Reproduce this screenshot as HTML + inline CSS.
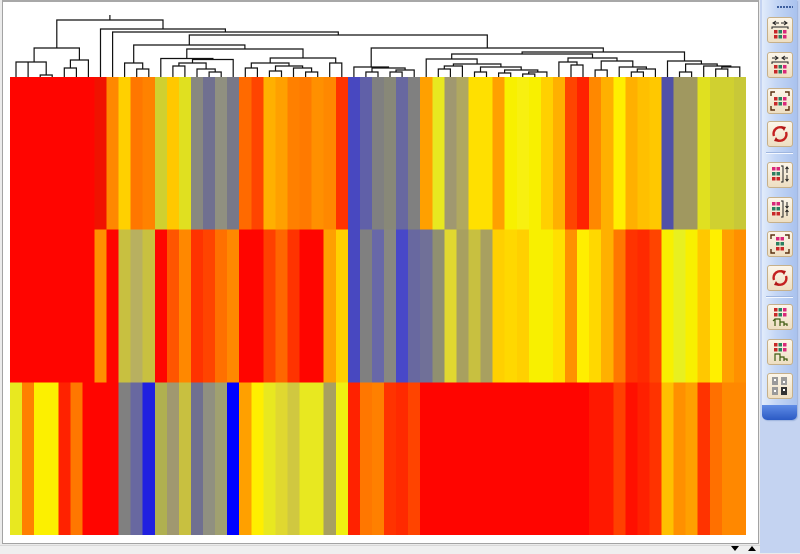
<!DOCTYPE html>
<html><head><meta charset="utf-8"><style>
html,body{margin:0;padding:0}
body{width:800px;height:553px;overflow:hidden;position:relative;background:#ebebeb;font-family:"Liberation Sans",sans-serif}
.abs{position:absolute}
.btn{position:absolute;left:767px;width:26px;height:26px;box-sizing:border-box;border:1px solid #c6b08a;border-radius:3px;background:linear-gradient(#fcf6ea,#eedfc2)}
.btn svg{position:absolute;left:-1px;top:-1px}
.sep{position:absolute;left:766px;width:27px;height:1px;background:#f4f8ff;border-top:1px solid #9fb6df}
</style></head><body>
<div class="abs" style="left:760px;top:0;width:40px;height:553px;background:#c4d3f1"></div>
<div class="abs" style="left:2px;top:0;width:757px;height:544px;background:#fff;border:1px solid #a3a3a3;border-top:2px solid #a8a8a8;box-sizing:border-box"></div>
<div class="abs" style="left:0;top:545px;width:760px;height:8px;background:#efefef;border-top:1px solid #d8d8d8"></div>
<svg class="abs" style="left:0;top:0" width="760" height="553">
<path fill="none" stroke="#111" stroke-width="1.2" d="M40.2 77V75H52.2V77M16 77V62H28.1V77M46.2 75V62H22.05M64.3 77V68H76.4V77M70.4 68V60H88.4V77M34.1 62V48H79.4V60M136.7 77V69H148.8V77M124.6 77V63H142.7V69M172.9 77V66H184.9V77M209.1 77V72H221.2V77M197 77V69H215.2V72M178.9 66V63H206.1V69M192.5 63V59.5H233.2V77M160.8 77V58.5H212.9V59.5M245.3 77V68H257.4V77M269.4 77V71H281.5V77M305.6 77V72H317.7V77M293.5 77V68H311.6V72M275.5 71V66H302.6V68M251.3 68V63H289V66M329.7 77V63H341.8V77M270.2 63V58H335.7V63M186.8 58.5V49H303V58M133.7 63V45H244.9V49M365.9 77V72H378V77M390 77V72H402.1V77M396 72V70H414.2V77M372 72V68H405.1V70M353.9 77V67H388.5V68M438.3 77V69H450.4V77M444.3 69V66H462.4V77M474.5 77V72H486.5V77M498.6 77V73H510.7V77M522.7 77V74H534.8V77M528.7 74V72H546.9V77M504.6 73V70H537.8V72M480.5 72V67H521.2V70M453.4 66V64H500.9V67M426.2 77V59H477.1V64M571 77V65H583V77M558.9 77V62H577V65M595.1 77V70H607.2V77M631.3 77V72H643.4V77M637.3 72V69H655.4V77M619.2 77V67H646.4V69M601.2 70V61H632.8V67M568 62V58H617V61M451.7 59V54H592.5V58M679.5 77V72H691.6V77M715.7 77V69H727.8V77M721.8 69V67H739.8V77M703.7 77V66H730.8V67M685.6 72V64H717.2V66M667.5 77V61H701.4V64M522.1 54V52H684.5V61M371.2 67V48H603.3V52M189.3 45V35H487.3V48M112.6 77V32H338.3V35M100.5 77V29H225.4V32M56.8 48V20H163V29M109.9 20V15"/>
<svg x="10" y="77" width="736" height="458" viewBox="0 0 61 3" preserveAspectRatio="none" shape-rendering="crispEdges">
<g>
<rect x="0" y="0" width="7.05" height="1.01" fill="#ff0500"/>
<rect x="7" y="0" width="1.05" height="1.01" fill="#f01200"/>
<rect x="8" y="0" width="1.05" height="1.01" fill="#ff8800"/>
<rect x="9" y="0" width="1.05" height="1.01" fill="#ffd000"/>
<rect x="10" y="0" width="1.05" height="1.01" fill="#ff7700"/>
<rect x="11" y="0" width="1.05" height="1.01" fill="#ff8200"/>
<rect x="12" y="0" width="1.05" height="1.01" fill="#d0d030"/>
<rect x="13" y="0" width="1.05" height="1.01" fill="#ffc800"/>
<rect x="14" y="0" width="1.05" height="1.01" fill="#e0e020"/>
<rect x="15" y="0" width="1.05" height="1.01" fill="#888880"/>
<rect x="16" y="0" width="1.05" height="1.01" fill="#707090"/>
<rect x="17" y="0" width="1.05" height="1.01" fill="#909080"/>
<rect x="18" y="0" width="1.05" height="1.01" fill="#787888"/>
<rect x="19" y="0" width="1.05" height="1.01" fill="#ff6a00"/>
<rect x="20" y="0" width="1.05" height="1.01" fill="#ff4400"/>
<rect x="21" y="0" width="1.05" height="1.01" fill="#ffb000"/>
<rect x="22" y="0" width="1.05" height="1.01" fill="#ffa000"/>
<rect x="23" y="0" width="1.05" height="1.01" fill="#ff8000"/>
<rect x="24" y="0" width="1.05" height="1.01" fill="#ff7a00"/>
<rect x="25" y="0" width="1.05" height="1.01" fill="#ff9000"/>
<rect x="26" y="0" width="1.05" height="1.01" fill="#ff8800"/>
<rect x="27" y="0" width="1.05" height="1.01" fill="#ff3300"/>
<rect x="28" y="0" width="1.05" height="1.01" fill="#4848c0"/>
<rect x="29" y="0" width="1.05" height="1.01" fill="#6060a8"/>
<rect x="30" y="0" width="1.05" height="1.01" fill="#808080"/>
<rect x="31" y="0" width="1.05" height="1.01" fill="#888878"/>
<rect x="32" y="0" width="1.05" height="1.01" fill="#6868a0"/>
<rect x="33" y="0" width="1.05" height="1.01" fill="#808080"/>
<rect x="34" y="0" width="1.05" height="1.01" fill="#ffa000"/>
<rect x="35" y="0" width="1.05" height="1.01" fill="#e8e820"/>
<rect x="36" y="0" width="1.05" height="1.01" fill="#a09870"/>
<rect x="37" y="0" width="1.05" height="1.01" fill="#b0a860"/>
<rect x="38" y="0" width="2.05" height="1.01" fill="#ffe000"/>
<rect x="40" y="0" width="1.05" height="1.01" fill="#ffa000"/>
<rect x="41" y="0" width="1.05" height="1.01" fill="#f8f000"/>
<rect x="42" y="0" width="1.05" height="1.01" fill="#f8f010"/>
<rect x="43" y="0" width="1.05" height="1.01" fill="#f8f000"/>
<rect x="44" y="0" width="1.05" height="1.01" fill="#ffd000"/>
<rect x="45" y="0" width="1.05" height="1.01" fill="#ffb000"/>
<rect x="46" y="0" width="1.05" height="1.01" fill="#ff4400"/>
<rect x="47" y="0" width="1.05" height="1.01" fill="#ff2200"/>
<rect x="48" y="0" width="1.05" height="1.01" fill="#ff8800"/>
<rect x="49" y="0" width="1.05" height="1.01" fill="#ffb000"/>
<rect x="50" y="0" width="1.05" height="1.01" fill="#ffee00"/>
<rect x="51" y="0" width="1.05" height="1.01" fill="#ffb000"/>
<rect x="52" y="0" width="1.05" height="1.01" fill="#ffc000"/>
<rect x="53" y="0" width="1.05" height="1.01" fill="#ffc800"/>
<rect x="54" y="0" width="1.05" height="1.01" fill="#5050a8"/>
<rect x="55" y="0" width="2.05" height="1.01" fill="#a09860"/>
<rect x="57" y="0" width="1.05" height="1.01" fill="#e0e020"/>
<rect x="58" y="0" width="2.05" height="1.01" fill="#d0d030"/>
<rect x="60" y="0" width="1" height="1.01" fill="#c8c838"/>
</g>
<g>
<rect x="0" y="1" width="7.05" height="1.01" fill="#ff0500"/>
<rect x="7" y="1" width="1.05" height="1.01" fill="#ff9000"/>
<rect x="8" y="1" width="1.05" height="1.01" fill="#ff0500"/>
<rect x="9" y="1" width="1.05" height="1.01" fill="#c8c040"/>
<rect x="10" y="1" width="1.05" height="1.01" fill="#b8b060"/>
<rect x="11" y="1" width="1.05" height="1.01" fill="#c8c040"/>
<rect x="12" y="1" width="1.05" height="1.01" fill="#ff0500"/>
<rect x="13" y="1" width="1.05" height="1.01" fill="#ff5500"/>
<rect x="14" y="1" width="1.05" height="1.01" fill="#ff8800"/>
<rect x="15" y="1" width="1.05" height="1.01" fill="#ff3300"/>
<rect x="16" y="1" width="1.05" height="1.01" fill="#ff4400"/>
<rect x="17" y="1" width="1.05" height="1.01" fill="#ff7000"/>
<rect x="18" y="1" width="1.05" height="1.01" fill="#ff8800"/>
<rect x="19" y="1" width="2.05" height="1.01" fill="#ff0500"/>
<rect x="21" y="1" width="1.05" height="1.01" fill="#ff4000"/>
<rect x="22" y="1" width="1.05" height="1.01" fill="#ff6600"/>
<rect x="23" y="1" width="1.05" height="1.01" fill="#ff3300"/>
<rect x="24" y="1" width="2.05" height="1.01" fill="#ff0500"/>
<rect x="26" y="1" width="1.05" height="1.01" fill="#ffa000"/>
<rect x="27" y="1" width="1.05" height="1.01" fill="#ffd000"/>
<rect x="28" y="1" width="1.05" height="1.01" fill="#4848c0"/>
<rect x="29" y="1" width="1.05" height="1.01" fill="#808080"/>
<rect x="30" y="1" width="1.05" height="1.01" fill="#6868a8"/>
<rect x="31" y="1" width="1.05" height="1.01" fill="#888880"/>
<rect x="32" y="1" width="1.05" height="1.01" fill="#4848c8"/>
<rect x="33" y="1" width="1.05" height="1.01" fill="#6868a0"/>
<rect x="34" y="1" width="1.05" height="1.01" fill="#707098"/>
<rect x="35" y="1" width="1.05" height="1.01" fill="#909070"/>
<rect x="36" y="1" width="1.05" height="1.01" fill="#e0d830"/>
<rect x="37" y="1" width="1.05" height="1.01" fill="#a8a060"/>
<rect x="38" y="1" width="1.05" height="1.01" fill="#c8c040"/>
<rect x="39" y="1" width="1.05" height="1.01" fill="#a8a060"/>
<rect x="40" y="1" width="1.05" height="1.01" fill="#ffd000"/>
<rect x="41" y="1" width="1.05" height="1.01" fill="#ffd800"/>
<rect x="42" y="1" width="1.05" height="1.01" fill="#ffd000"/>
<rect x="43" y="1" width="2.05" height="1.01" fill="#f8f000"/>
<rect x="45" y="1" width="1.05" height="1.01" fill="#ffe000"/>
<rect x="46" y="1" width="1.05" height="1.01" fill="#ff9000"/>
<rect x="47" y="1" width="1.05" height="1.01" fill="#ffee00"/>
<rect x="48" y="1" width="1.05" height="1.01" fill="#ffd800"/>
<rect x="49" y="1" width="1.05" height="1.01" fill="#ffb000"/>
<rect x="50" y="1" width="1.05" height="1.01" fill="#ff7700"/>
<rect x="51" y="1" width="1.05" height="1.01" fill="#ff3300"/>
<rect x="52" y="1" width="1.05" height="1.01" fill="#ff2a00"/>
<rect x="53" y="1" width="1.05" height="1.01" fill="#ff4400"/>
<rect x="54" y="1" width="1.05" height="1.01" fill="#f8f000"/>
<rect x="55" y="1" width="1.05" height="1.01" fill="#e8f020"/>
<rect x="56" y="1" width="1.05" height="1.01" fill="#f8f000"/>
<rect x="57" y="1" width="1.05" height="1.01" fill="#ffc800"/>
<rect x="58" y="1" width="1.05" height="1.01" fill="#fff000"/>
<rect x="59" y="1" width="1.05" height="1.01" fill="#ffa000"/>
<rect x="60" y="1" width="1" height="1.01" fill="#ff9000"/>
</g>
<g>
<rect x="0" y="2" width="1.05" height="1" fill="#e8e820"/>
<rect x="1" y="2" width="1.05" height="1" fill="#ff8000"/>
<rect x="2" y="2" width="2.05" height="1" fill="#fcf000"/>
<rect x="4" y="2" width="1.05" height="1" fill="#ff2200"/>
<rect x="5" y="2" width="1.05" height="1" fill="#ff7700"/>
<rect x="6" y="2" width="3.05" height="1" fill="#ff0500"/>
<rect x="9" y="2" width="1.05" height="1" fill="#808080"/>
<rect x="10" y="2" width="1.05" height="1" fill="#6868a0"/>
<rect x="11" y="2" width="1.05" height="1" fill="#2020e0"/>
<rect x="12" y="2" width="1.05" height="1" fill="#b0b050"/>
<rect x="13" y="2" width="1.05" height="1" fill="#a09870"/>
<rect x="14" y="2" width="1.05" height="1" fill="#c8c040"/>
<rect x="15" y="2" width="1.05" height="1" fill="#707090"/>
<rect x="16" y="2" width="1.05" height="1" fill="#909080"/>
<rect x="17" y="2" width="1.05" height="1" fill="#a0a070"/>
<rect x="18" y="2" width="1.05" height="1" fill="#0000ff"/>
<rect x="19" y="2" width="1.05" height="1" fill="#ffa000"/>
<rect x="20" y="2" width="1.05" height="1" fill="#ffee00"/>
<rect x="21" y="2" width="1.05" height="1" fill="#e8e820"/>
<rect x="22" y="2" width="1.05" height="1" fill="#e0d830"/>
<rect x="23" y="2" width="1.05" height="1" fill="#d0c840"/>
<rect x="24" y="2" width="2.05" height="1" fill="#e8e820"/>
<rect x="26" y="2" width="1.05" height="1" fill="#a8a060"/>
<rect x="27" y="2" width="1.05" height="1" fill="#f0f010"/>
<rect x="28" y="2" width="1.05" height="1" fill="#ff2200"/>
<rect x="29" y="2" width="1.05" height="1" fill="#ff7700"/>
<rect x="30" y="2" width="1.05" height="1" fill="#ff8000"/>
<rect x="31" y="2" width="1.05" height="1" fill="#ff3300"/>
<rect x="32" y="2" width="1.05" height="1" fill="#ff2a00"/>
<rect x="33" y="2" width="1.05" height="1" fill="#ff4400"/>
<rect x="34" y="2" width="14.05" height="1" fill="#ff0500"/>
<rect x="48" y="2" width="2.05" height="1" fill="#ff1800"/>
<rect x="50" y="2" width="1.05" height="1" fill="#ff4000"/>
<rect x="51" y="2" width="1.05" height="1" fill="#ff1000"/>
<rect x="52" y="2" width="1.05" height="1" fill="#ff2000"/>
<rect x="53" y="2" width="1.05" height="1" fill="#ff3300"/>
<rect x="54" y="2" width="1.05" height="1" fill="#ffc000"/>
<rect x="55" y="2" width="1.05" height="1" fill="#ff9000"/>
<rect x="56" y="2" width="1.05" height="1" fill="#ffa000"/>
<rect x="57" y="2" width="1.05" height="1" fill="#ff3300"/>
<rect x="58" y="2" width="1.05" height="1" fill="#ff7000"/>
<rect x="59" y="2" width="2" height="1" fill="#ff8800"/>
</g>
</svg>
<polygon points="731,546 739,546 735,551" fill="#000"/>
<polygon points="748,551 756,551 752,546" fill="#000"/>
</svg>

<!-- toolbar -->
<div class="abs" style="left:762px;top:0;width:35px;height:420px;border-radius:0 0 5px 5px;background:linear-gradient(to right,#e2ecfb,#c4d6f5 40%,#a9c2ee);box-shadow:1px 1px 1px #9db3dc"></div>
<div class="abs" style="left:762px;top:405px;width:35px;height:15px;border-radius:0 0 5px 5px;background:linear-gradient(#5f8ce6,#2b5ac4)"></div>
<div class="abs" style="left:777px;top:6px;width:16px;height:2px;background:repeating-linear-gradient(to right,#3d5f9e 0 2px,transparent 2px 3px)"></div>

<div class="btn" style="top:17px"><svg width="26" height="26"><path d="M6 6H12M9 4L6 6L9 8M20 6H14M17 4L20 6L17 8M5 12V10H21V12" fill="none" stroke="#222" stroke-width="1"/><g fill="#c82828"><rect x="7" y="13" width="3.5" height="3.5"/><rect x="7" y="18" width="3.5" height="3.5"/></g><g fill="#2a8060"><rect x="11.5" y="13" width="3.5" height="3.5"/><rect x="11.5" y="18" width="3.5" height="3.5"/></g><g fill="#d8287a"><rect x="16" y="13" width="3.5" height="3.5"/><rect x="16" y="18" width="3.5" height="3.5"/></g></svg></div>
<div class="btn" style="top:52px"><svg width="26" height="26"><path d="M5 6H11M8 4L11 6L8 8M21 6H15M18 4L15 6L18 8M5 12V10H21V12" fill="none" stroke="#222" stroke-width="1"/><g fill="#c82828"><rect x="7" y="13" width="3.5" height="3.5"/><rect x="7" y="18" width="3.5" height="3.5"/></g><g fill="#2a8060"><rect x="11.5" y="13" width="3.5" height="3.5"/><rect x="11.5" y="18" width="3.5" height="3.5"/></g><g fill="#d8287a"><rect x="16" y="13" width="3.5" height="3.5"/><rect x="16" y="18" width="3.5" height="3.5"/></g></svg></div>
<div class="btn" style="top:88px"><svg width="26" height="26"><path d="M4 8V4H8M18 4H22V8M4 18V22H8M18 22H22V18" fill="none" stroke="#5a3010" stroke-width="1.4"/><g fill="#c82828"><rect x="7" y="9" width="3.5" height="3.5"/><rect x="7" y="14" width="3.5" height="3.5"/></g><g fill="#2a8060"><rect x="11.5" y="9" width="3.5" height="3.5"/><rect x="11.5" y="14" width="3.5" height="3.5"/></g><g fill="#d8287a"><rect x="16" y="9" width="3.5" height="3.5"/><rect x="16" y="14" width="3.5" height="3.5"/></g></svg></div>
<div class="btn" style="top:121px"><svg width="26" height="26"><path d="M7 15A6.5 6.5 0 0 1 17 7.5M19 11A6.5 6.5 0 0 1 9 18.5" fill="none" stroke="#c42020" stroke-width="2.4"/><path d="M14 5L19 6L17 10ZM12 21L7 20L9 16Z" fill="#b01818"/></svg></div>
<div class="sep" style="top:152px"></div>
<div class="btn" style="top:162px"><svg width="26" height="26"><g fill="#d8287a"><rect x="5" y="5" width="3.5" height="3.5"/><rect x="9.5" y="5" width="3.5" height="3.5"/></g><g fill="#2a8060"><rect x="5" y="10" width="3.5" height="3.5"/><rect x="9.5" y="10" width="3.5" height="3.5"/></g><g fill="#c82828"><rect x="5" y="15" width="3.5" height="3.5"/><rect x="9.5" y="15" width="3.5" height="3.5"/></g><path d="M14 4H16V20H14M20 5V11M18.5 7L20 5L21.5 7M20 13V19M18.5 17L20 19L21.5 17" fill="none" stroke="#222" stroke-width="1"/></svg></div>
<div class="btn" style="top:197px"><svg width="26" height="26"><g fill="#d8287a"><rect x="5" y="5" width="3.5" height="3.5"/><rect x="9.5" y="5" width="3.5" height="3.5"/></g><g fill="#2a8060"><rect x="5" y="10" width="3.5" height="3.5"/><rect x="9.5" y="10" width="3.5" height="3.5"/></g><g fill="#c82828"><rect x="5" y="15" width="3.5" height="3.5"/><rect x="9.5" y="15" width="3.5" height="3.5"/></g><path d="M14 4H16V20H14M20 5V11M18.5 9L20 11L21.5 9M20 13V19M18.5 15L20 13L21.5 15" fill="none" stroke="#222" stroke-width="1"/></svg></div>
<div class="btn" style="top:231px"><svg width="26" height="26"><path d="M4 8V4H8M18 4H22V8M4 18V22H8M18 22H22V18" fill="none" stroke="#5a3010" stroke-width="1.4"/><g fill="#d8287a"><rect x="9" y="6" width="3.5" height="3.5"/><rect x="13.5" y="6" width="3.5" height="3.5"/></g><g fill="#2a8060"><rect x="9" y="11" width="3.5" height="3.5"/><rect x="13.5" y="11" width="3.5" height="3.5"/></g><g fill="#c82828"><rect x="9" y="16" width="3.5" height="3.5"/><rect x="13.5" y="16" width="3.5" height="3.5"/></g></svg></div>
<div class="btn" style="top:265px"><svg width="26" height="26"><path d="M7 15A6.5 6.5 0 0 1 17 7.5M19 11A6.5 6.5 0 0 1 9 18.5" fill="none" stroke="#c42020" stroke-width="2.4"/><path d="M14 5L19 6L17 10ZM12 21L7 20L9 16Z" fill="#b01818"/></svg></div>
<div class="sep" style="top:296px"></div>
<div class="btn" style="top:304px"><svg width="26" height="26"><g fill="#c82828"><rect x="7" y="4" width="3.5" height="3.5"/><rect x="7" y="9" width="3.5" height="3.5"/></g><g fill="#2a8060"><rect x="11.5" y="4" width="3.5" height="3.5"/><rect x="11.5" y="9" width="3.5" height="3.5"/></g><g fill="#d8287a"><rect x="16" y="4" width="3.5" height="3.5"/><rect x="16" y="9" width="3.5" height="3.5"/></g><path d="M8 22V15H13V22M13 18H17V22M17 20H20V22M8 15L6 17" fill="none" stroke="#3d5a10" stroke-width="1.2"/></svg></div>
<div class="btn" style="top:339px"><svg width="26" height="26"><g fill="#c82828"><rect x="7" y="4" width="3.5" height="3.5"/><rect x="7" y="9" width="3.5" height="3.5"/></g><g fill="#2a8060"><rect x="11.5" y="4" width="3.5" height="3.5"/><rect x="11.5" y="9" width="3.5" height="3.5"/></g><g fill="#d8287a"><rect x="16" y="4" width="3.5" height="3.5"/><rect x="16" y="9" width="3.5" height="3.5"/></g><path d="M8 22V15H13V22M13 18H17V22M17 20H20V22" fill="none" stroke="#3d5a10" stroke-width="1.2"/></svg></div>
<div class="btn" style="top:373px"><svg width="26" height="26"><g fill="#9a9a9a"><rect x="5" y="4" width="6" height="8"/><rect x="14" y="4" width="6" height="8"/><rect x="5" y="14" width="6" height="8"/></g><rect x="14" y="14" width="6" height="8" fill="#333"/><g fill="#fff"><rect x="7" y="6" width="2" height="2"/><rect x="16" y="8" width="2" height="2"/><rect x="7" y="17" width="2" height="2"/><rect x="16" y="16" width="2" height="2"/></g></svg></div>
</body></html>
